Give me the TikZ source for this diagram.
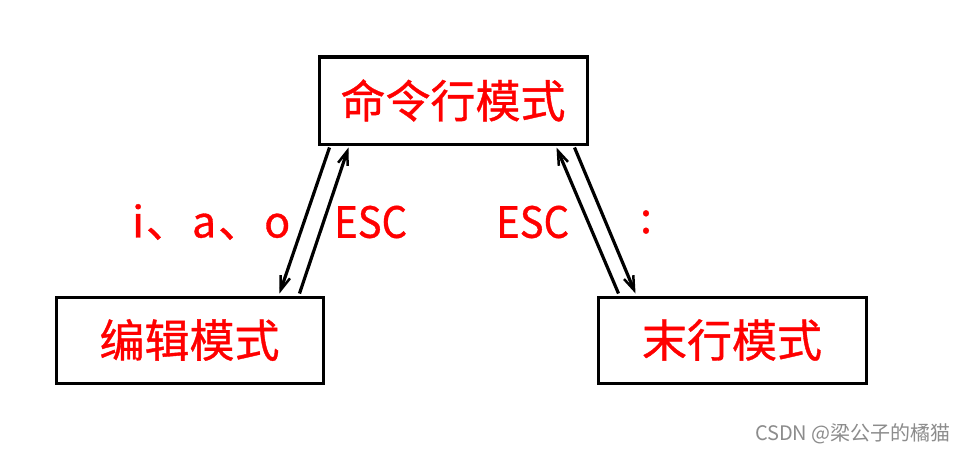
\documentclass[tikz,border=0pt]{standalone}
\usepackage{fontspec}
\setmainfont{Noto Sans CJK SC}
\newfontfamily\cjk{Noto Sans CJK SC}
\newfontfamily\cjkb[FakeBold=0.8]{Noto Sans CJK SC}
\usetikzlibrary{arrows.meta,calc}
\begin{document}
\begin{tikzpicture}[x=1pt,y=-1pt,
  modebox/.style={draw=black,line width=3pt,inner sep=0pt,font=\cjkb\fontsize{45}{45}\selectfont,text=red},
  lbl/.style={text=red,inner sep=0pt,font=\cjkb\fontsize{43}{43}\selectfont},
  conn/.style={line width=3.2pt,-{Straight Barb[length=14pt,width=10pt,line width=2.5pt]}}]
\useasboundingbox (0,0) rectangle (965,452);
\fill[white] (0,0) rectangle (965,452);
\node[modebox,minimum width=268pt,minimum height=87pt] (top) at (453,100.5) {命令行模式};
\node[modebox,minimum width=267pt,minimum height=86pt] (left) at (189.5,340) {编辑模式};
\node[modebox,minimum width=268pt,minimum height=86pt] (right) at (732,340) {末行模式};
\draw[conn] ($(top.south west)+(12,2)$) -- ($(left.north east)+(-45,-2)$);
\draw[conn] ($(left.north east)+(-25,-2)$) -- ($(top.south west)+(31,2)$);
\draw[conn] ($(right.north west)+(22,-2)$) -- ($(top.south east)+(-32,2)$);
\draw[conn] ($(top.south east)+(-14,2)$) -- ($(right.north west)+(39,-2)$);
\node[lbl,anchor=west] (lia) at (132,222) {i\kern2pt、\kern3pt a\kern2pt、\kern3pt o};
\node[lbl,anchor=west] (lesc1) at (334,222) {\scalebox{0.93}[1]{ESC}};
\node[lbl,anchor=west] (lesc2) at (496,222) {\scalebox{0.93}[1]{ESC}};
\node[lbl] (lcolon) at (646,222) {:};
\node[text=black!45,inner sep=0pt,anchor=east,font=\cjk\fontsize{20}{20}\selectfont] (wm) at (951,434) {CSDN @梁公子的橘猫};
\end{tikzpicture}
\end{document}
